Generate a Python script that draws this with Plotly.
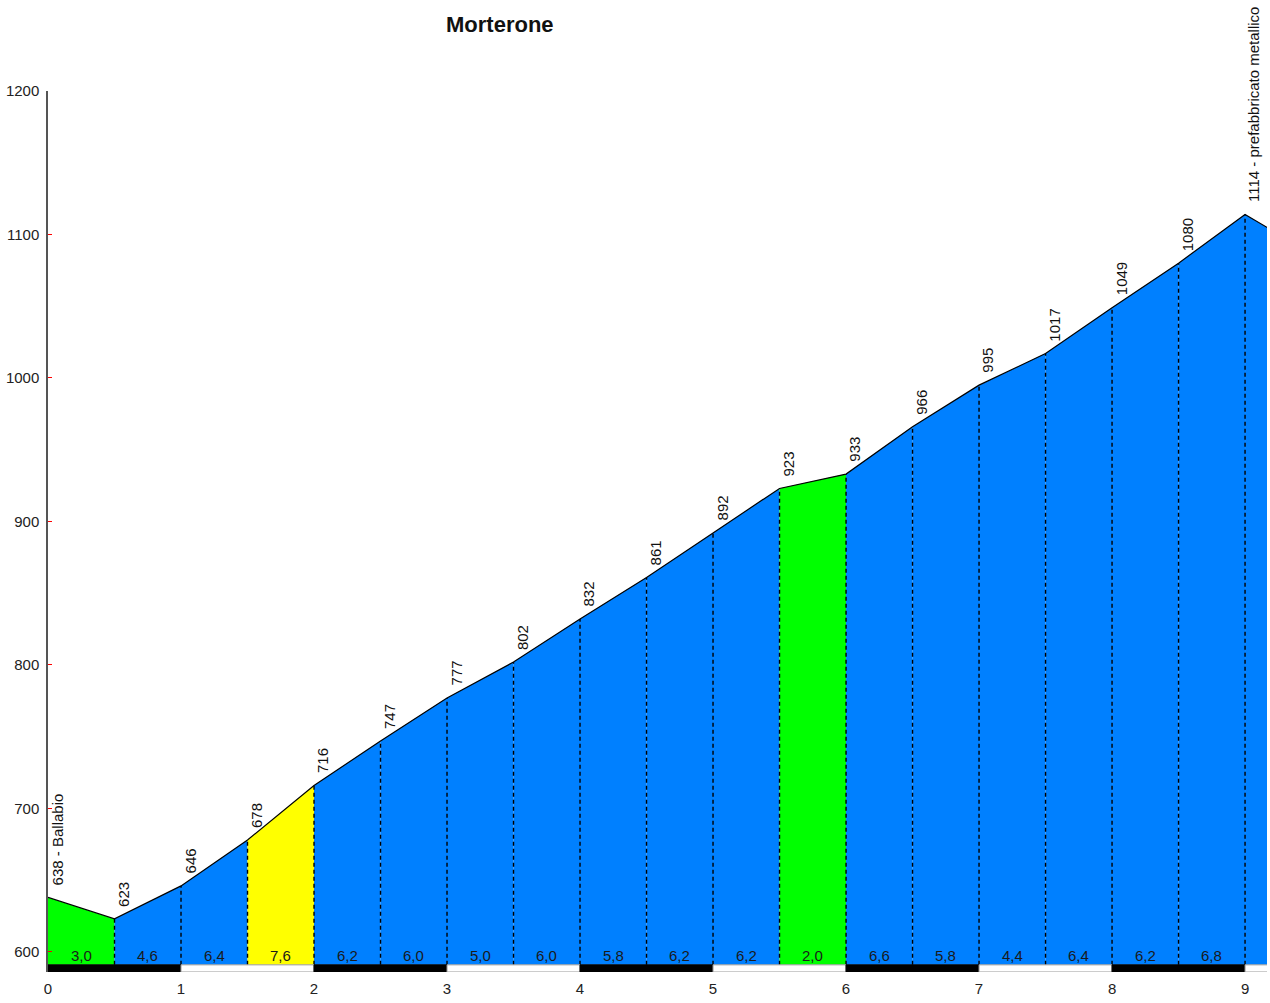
import plotly.graph_objects as go

title = "Morterone"
km = [0, 0.5, 1, 1.5, 2, 2.5, 3, 3.5, 4, 4.5, 5, 5.5, 6, 6.5, 7, 7.5, 8, 8.5, 9, 9.2]
elev = [638, 623, 646, 678, 716, 747, 777, 802, 832, 861, 892, 923, 933, 966, 995, 1017, 1049, 1080, 1114, 1103]
point_labels = ["638 - Ballabio", "623", "646", "678", "716", "747", "777", "802", "832", "861",
                "892", "923", "933", "966", "995", "1017", "1049", "1080", "1114 - prefabbricato metallico", ""]
grades = ["3,0", "4,6", "6,4", "7,6", "6,2", "6,0", "5,0", "6,0", "5,8", "6,2", "6,2", "2,0",
          "6,6", "5,8", "4,4", "6,4", "6,2", "6,8", ""]
seg_colors = ["#00FF00", "#0080FF", "#0080FF", "#FFFF00", "#0080FF", "#0080FF", "#0080FF", "#0080FF",
              "#0080FF", "#0080FF", "#0080FF", "#00FF00", "#0080FF", "#0080FF", "#0080FF", "#0080FF",
              "#0080FF", "#0080FF", "#0080FF"]
x_ticks = [0, 1, 2, 3, 4, 5, 6, 7, 8, 9]
y_ticks = [600, 700, 800, 900, 1000, 1100, 1200]

BASE = 591
BAR_LOW = 586
X_MAX = 9.165
FONT = "Liberation Sans, Arial"

fig = go.Figure()

for i in range(len(km) - 1):
    x0, x1 = km[i], km[i + 1]
    fig.add_trace(go.Scatter(
        x=[x0, x0, x1, x1, x0], y=[BASE, elev[i], elev[i + 1], BASE, BASE],
        fill="toself", fillcolor=seg_colors[i], mode="lines", line=dict(width=0),
        hoverinfo="skip", showlegend=False))

fig.add_trace(go.Scatter(x=km, y=elev, mode="lines", line=dict(color="black", width=1.2),
                         showlegend=False, hoverinfo="skip"))

shapes = []
for i in range(1, len(km) - 1):
    shapes.append(dict(type="line", xref="x", yref="y", x0=km[i], x1=km[i], y0=BASE, y1=elev[i],
                       line=dict(color="black", width=1.4, dash="4px,3px")))

for k in range(0, 10):
    black = (k % 2 == 0)
    shapes.append(dict(type="rect", xref="x", yref="y", x0=k, x1=min(k + 1, X_MAX + 0.2),
                       y0=BAR_LOW, y1=BASE,
                       fillcolor="black" if black else "white",
                       line=dict(color="#999999" if not black else "black", width=1)))

ann = []
for i in range(len(km)):
    if point_labels[i]:
        ann.append(dict(x=km[i], y=elev[i], text=point_labels[i], textangle=-90, showarrow=False,
                        xanchor="center", yanchor="bottom", xshift=9, yshift=10,
                        font=dict(family=FONT, size=15, color="#111111")))
for i in range(len(km) - 1):
    if grades[i]:
        ann.append(dict(x=(km[i] + km[i + 1]) / 2, y=BASE, text=grades[i], showarrow=False,
                        xanchor="center", yanchor="bottom", yshift=-1,
                        font=dict(family=FONT, size=15, color="#1a1a1a")))

ann.append(dict(xref="paper", yref="paper", x=(500 - 48) / (1267 - 48), y=1, yshift=67,
                text="<b>" + title + "</b>", showarrow=False, xanchor="center", yanchor="middle",
                font=dict(family=FONT, size=22, color="#111111")))

fig.update_layout(
    width=1270, height=1003,
    margin=dict(l=48, r=3, t=91, b=31),
    plot_bgcolor="white", paper_bgcolor="white",
    shapes=shapes, annotations=ann,
    xaxis=dict(range=[0, X_MAX], tickvals=x_ticks, ticktext=[str(v) for v in x_ticks],
               showgrid=False, zeroline=False, showline=False, ticks="",
               ticklabelstandoff=6,
               tickfont=dict(family=FONT, size=15, color="#222222")),
    yaxis=dict(range=[BAR_LOW, 1200], tickvals=y_ticks, ticktext=[str(v) for v in y_ticks],
               showgrid=False, zeroline=False, showline=True, linecolor="#555555", linewidth=1.5,
               ticks="inside", ticklen=4, tickcolor="red", tickwidth=1,
               ticklabelstandoff=4,
               tickfont=dict(family=FONT, size=15, color="#222222")),
)

fig.write_html("out.html", config={"displayModeBar": False},
               post_script="document.body.style.margin='0';document.body.style.overflow='hidden';")
